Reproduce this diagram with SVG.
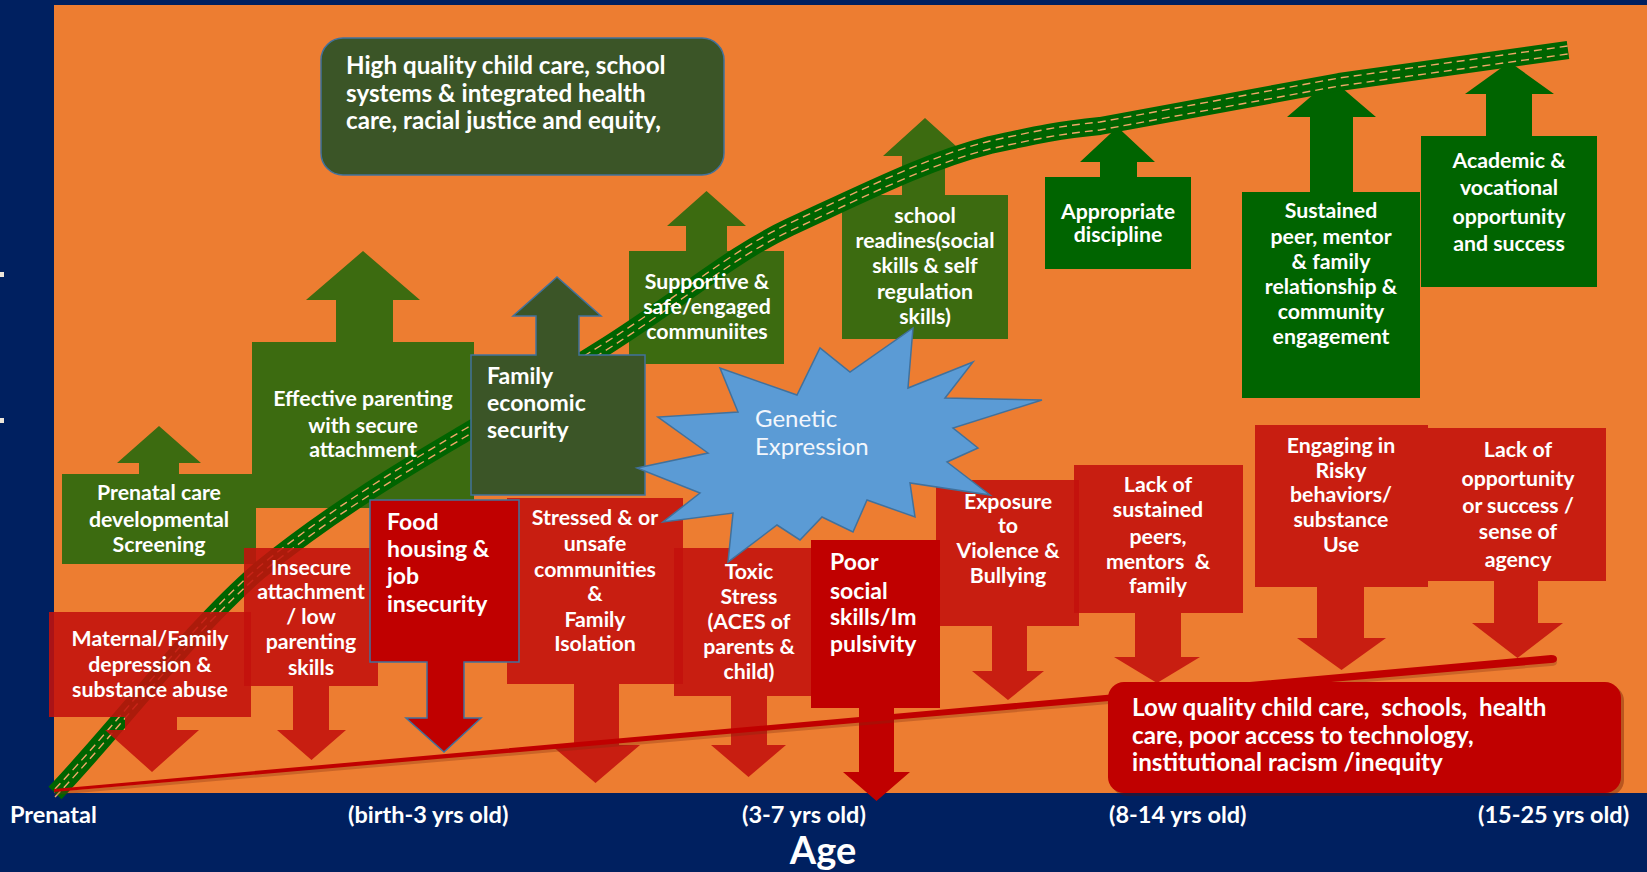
<svg xmlns="http://www.w3.org/2000/svg" width="1647" height="872" viewBox="0 0 1647 872">
<style>
.bg{fill:#002060}
.field{fill:#ED7D31}
.g1{fill:#3C6B10}
.g2{fill:#3B5527;stroke:#41719C;stroke-width:1.5}
.g3{fill:#006400}
.r1{fill:#C3110C;fill-opacity:.88}
.r2{fill:#C00000}
.r2b{fill:#C00000;stroke:#41719C;stroke-width:1.5}
.star{fill:#5B9BD5;stroke:#41719C;stroke-width:1.5}
text{font-family:Lato,"Open Sans","Liberation Sans",sans-serif;fill:#FFFFFF}
.b{font-weight:700;font-size:21.3px;text-anchor:middle}
.bl{font-weight:700;font-size:23px;text-anchor:start}
.big{font-weight:700;font-size:23px;text-anchor:start}
.wide{font-weight:700;font-size:24.2px;text-anchor:start}
.gen{font-weight:400;font-size:24px;text-anchor:start;fill:#F2F6FC}
.axis{font-weight:700;font-size:23.5px}
.age{font-weight:700;font-size:38px;text-anchor:middle}
.band{fill:none;stroke:#006400;stroke-width:18;stroke-linejoin:round}
.dash{fill:none;stroke:#F0A868;stroke-width:1.4;stroke-dasharray:8 5}
</style>
<defs>
<path id="curve" d="M55,793 C120,725 190,630 260,570 C340,505 420,460 465,433 C520,400 560,375 600,350 C680,300 730,255 790,227 C870,190 930,160 990,145 C1040,134 1060,130 1100,126 L1339,82 L1568,50"/>
</defs>
<g id="background">
<rect class="bg" x="0" y="0" width="1647" height="872"/>
<rect class="field" x="54" y="5" width="1593" height="788"/>
<rect x="0" y="272" width="4" height="5" fill="#EDE6DA"/>
<rect x="0" y="418" width="4" height="5" fill="#EDE6DA"/>
</g>
<g id="positive-factor-shapes">
<g id="prenatal-care"><path class="g1" d="M62,564 L62,474 L139,474 L139,463 L117,463 L159,426 L201,463 L179,463 L179,474 L256,474 L256,564 Z"/></g>
<g id="effective-parenting"><path class="g1" d="M252,508 L252,342 L336,342 L336,300 L306,300 L363,251 L420,300 L393,300 L393,342 L474,342 L474,508 Z"/></g>
<g id="supportive-communities"><path class="g1" d="M629,364 L629,251 L686,251 L686,226 L667,226 L706.5,191 L746,226 L727,226 L727,251 L784,251 L784,364 Z"/></g>
<g id="school-readiness"><path class="g1" d="M842,339 L842,195 L902,195 L902,156 L883,156 L925,118 L967,156 L945,156 L945,195 L1008,195 L1008,339 Z"/></g>
<g id="appropriate-discipline"><path class="g3" d="M1045,269 L1045,177 L1100,177 L1100,162 L1080,162 L1117.5,127 L1155,162 L1137,162 L1137,177 L1191,177 L1191,269 Z"/></g>
<g id="sustained-relationships"><path class="g3" d="M1242,398 L1242,192 L1310,192 L1310,117 L1287,117 L1331.5,79 L1376,117 L1353,117 L1353,192 L1420,192 L1420,398 Z"/></g>
<g id="academic-success"><path class="g3" d="M1421,287 L1421,136 L1486,136 L1486,94 L1465,94 L1509.5,62 L1554,94 L1532,94 L1532,136 L1597,136 L1597,287 Z"/></g>
</g>
<g id="connectors">
<g id="positive-curve">
<use href="#curve" class="band"/>
<use href="#curve" class="dash" transform="translate(0,-4)"/>
<use href="#curve" class="dash" transform="translate(0,4)"/>
</g>
</g>
<g id="family-economic-security">
<path class="g2" d="M471,495 L471,355 L536,355 L536,316 L513,316 L557,277 L601,316 L579,316 L579,355 L645,355 L645,495 Z"/>
<text class="bl"><tspan x="487" y="384">Family</tspan><tspan x="487" y="411">economic</tspan><tspan x="487" y="438">security</tspan></text>
</g>
<g id="high-quality-systems">
<rect class="g2" x="321" y="38" width="403" height="137" rx="22"/>
<text class="wide"><tspan x="346" y="74">High quality child care, school</tspan><tspan x="346" y="102">systems &amp; integrated health</tspan><tspan x="346" y="129">care, racial justice and equity,</tspan></text>
</g>
<g id="positive-factor-labels">
<text id="prenatal-care-label" class="b"><tspan x="159" y="500">Prenatal care</tspan><tspan x="159" y="527">developmental</tspan><tspan x="159" y="552">Screening</tspan></text>
<text id="effective-parenting-label" class="b"><tspan x="363" y="406">Effective parenting</tspan><tspan x="363" y="433">with secure</tspan><tspan x="363" y="457">attachment</tspan></text>
<text id="supportive-communities-label" class="b"><tspan x="707" y="289">Supportive &amp;</tspan><tspan x="707" y="314">safe/engaged</tspan><tspan x="707" y="339">communiites</tspan></text>
<text id="school-readiness-label" class="b"><tspan x="925" y="223">school</tspan><tspan x="925" y="248">readines(social</tspan><tspan x="925" y="273">skills &amp; self</tspan><tspan x="925" y="299">regulation</tspan><tspan x="925" y="324">skills)</tspan></text>
<text id="appropriate-discipline-label" class="b"><tspan x="1118" y="219">Appropriate</tspan><tspan x="1118" y="242">discipline</tspan></text>
<text id="sustained-relationships-label" class="b"><tspan x="1331" y="218">Sustained</tspan><tspan x="1331" y="244">peer, mentor</tspan><tspan x="1331" y="269">&amp; family</tspan><tspan x="1331" y="294">relationship &amp;</tspan><tspan x="1331" y="319">community</tspan><tspan x="1331" y="344">engagement</tspan></text>
<text id="academic-success-label" class="b"><tspan x="1509" y="168">Academic &amp;</tspan><tspan x="1509" y="195">vocational</tspan><tspan x="1509" y="224">opportunity</tspan><tspan x="1509" y="251">and success</tspan></text>
</g>
<g id="risk-factors">
<g id="maternal-depression"><path class="r1" d="M49,612 L251,612 L251,717 L177,717 L177,730 L199,730 L152,772 L105,730 L125,730 L125,717 L49,717 Z"/>
<text class="b"><tspan x="150" y="646">Maternal/Family</tspan><tspan x="150" y="672">depression &amp;</tspan><tspan x="150" y="697">substance abuse</tspan></text></g>
<g id="insecure-attachment"><path class="r1" d="M244,548 L378,548 L378,686 L329,686 L329,730 L346,730 L311.5,760 L277,730 L293,730 L293,686 L244,686 Z"/>
<text class="b"><tspan x="311" y="575">Insecure</tspan><tspan x="311" y="599">attachment</tspan><tspan x="311" y="624">/ low</tspan><tspan x="311" y="649">parenting</tspan><tspan x="311" y="675">skills</tspan></text></g>
<g id="stressed-communities"><path class="r1" d="M507,498 L683,498 L683,684 L619,684 L619,745 L640,745 L595.5,783 L551,745 L574,745 L574,684 L507,684 Z"/>
<text class="b"><tspan x="595" y="525">Stressed &amp; or</tspan><tspan x="595" y="551">unsafe</tspan><tspan x="595" y="577">communities</tspan><tspan x="595" y="601">&amp;</tspan><tspan x="595" y="627">Family</tspan><tspan x="595" y="651">Isolation</tspan></text></g>
<g id="food-housing-insecurity"><path class="r2b" d="M370,500 L519,500 L519,662 L464,662 L464,718 L481,718 L444,752 L406,718 L427,718 L427,662 L370,662 Z"/>
<text class="big"><tspan x="387" y="530">Food</tspan><tspan x="387" y="557">housing &amp;</tspan><tspan x="387" y="584">job</tspan><tspan x="387" y="612">insecurity</tspan></text></g>
<g id="toxic-stress"><path class="r1" d="M674,548 L811,548 L811,696 L767,696 L767,745 L786,745 L748.5,777 L711,745 L731,745 L731,696 L674,696 Z"/>
<text class="b"><tspan x="749" y="579">Toxic</tspan><tspan x="749" y="604">Stress</tspan><tspan x="749" y="629">(ACES of</tspan><tspan x="749" y="654">parents &amp;</tspan><tspan x="749" y="679">child)</tspan></text></g>
<g id="exposure-violence"><path class="r1" d="M936,480 L1079,480 L1079,626 L1027,626 L1027,671 L1044,671 L1008,700 L972,671 L992,671 L992,626 L936,626 Z"/>
<text class="b"><tspan x="1008" y="509">Exposure</tspan><tspan x="1008" y="533">to</tspan><tspan x="1008" y="558">Violence &amp;</tspan><tspan x="1008" y="583">Bullying</tspan></text></g>
<g id="poor-social-skills"><path class="r2" d="M811,540 L940,540 L940,708 L894,708 L894,772 L910,772 L876.5,801 L843,772 L859,772 L859,708 L811,708 Z"/>
<text class="big"><tspan x="830" y="570">Poor</tspan><tspan x="830" y="599">social</tspan><tspan x="830" y="625">skills/Im</tspan><tspan x="830" y="652">pulsivity</tspan></text></g>
<g id="lack-sustained-peers"><path class="r1" d="M1074,465 L1243,465 L1243,613 L1181,613 L1181,657 L1200,657 L1157,683 L1114,657 L1135,657 L1135,613 L1074,613 Z"/>
<text class="b"><tspan x="1158" y="492">Lack of</tspan><tspan x="1158" y="517">sustained</tspan><tspan x="1158" y="544">peers,</tspan><tspan x="1158" y="569" xml:space="preserve">mentors  &amp;</tspan><tspan x="1158" y="593">family</tspan></text></g>
<g id="risky-behaviors"><path class="r1" d="M1255,425 L1428,425 L1428,587 L1364,587 L1364,638 L1386,638 L1341.5,670 L1297,638 L1317,638 L1317,587 L1255,587 Z"/>
<text class="b"><tspan x="1341" y="453">Engaging in</tspan><tspan x="1341" y="478">Risky</tspan><tspan x="1341" y="502">behaviors/</tspan><tspan x="1341" y="527">substance</tspan><tspan x="1341" y="552">Use</tspan></text></g>
<g id="lack-opportunity"><path class="r1" d="M1428,428 L1606,428 L1606,581 L1538,581 L1538,623 L1563,623 L1517.5,658 L1472,623 L1494,623 L1494,581 L1428,581 Z"/>
<text class="b"><tspan x="1518" y="457">Lack of</tspan><tspan x="1518" y="486">opportunity</tspan><tspan x="1518" y="513">or success /</tspan><tspan x="1518" y="539">sense of</tspan><tspan x="1518" y="567">agency</tspan></text></g>
</g>
<g id="negative-curve">
<path d="M54,792 L1551,658 Q1557,658 1557,662 Q1557,666 1551,666 L54,795 Z" fill="#7A2A10" opacity=".3"/>
<path d="M54,789 L1551,655 Q1557,655 1557,659 Q1557,663 1551,663 L54,792 Z" fill="#C00000"/>
</g>
<g id="low-quality-systems">
<rect x="1111" y="685" width="513" height="111" rx="16" fill="#5A0E00" opacity=".35"/>
<rect class="r2" x="1108" y="682" width="513" height="111" rx="16"/>
<text class="wide" xml:space="preserve"><tspan x="1132" y="716">Low quality child care,  schools,  health</tspan><tspan x="1132" y="744">care, poor access to technology,</tspan><tspan x="1132" y="771">institutional racism /inequity</tspan></text>
</g>
<g id="genetic-expression">
<polygon class="star" points="913,328 908,388 973,362 945,398 1042,400 953,428 978,448 947,462 990,495 910,483 915,517 867,500 853,532 822,517 800,540 777,525 728,562 733,513 663,522 700,493 637,468 708,453 658,417 738,412 720,368 797,395 820,348 850,372"/>
<text class="gen"><tspan x="755" y="427">Genetic</tspan><tspan x="755" y="455">Expression</tspan></text>
</g>
<g id="age-axis">
<text class="axis" x="10" y="823">Prenatal</text>
<text class="axis" x="348" y="823">(birth-3 yrs old)</text>
<text class="axis" x="742" y="823">(3-7 yrs old)</text>
<text class="axis" x="1109" y="823">(8-14 yrs old)</text>
<text class="axis" x="1478" y="823">(15-25 yrs old)</text>
<text class="age" x="823" y="864">Age</text>
</g>
</svg>
